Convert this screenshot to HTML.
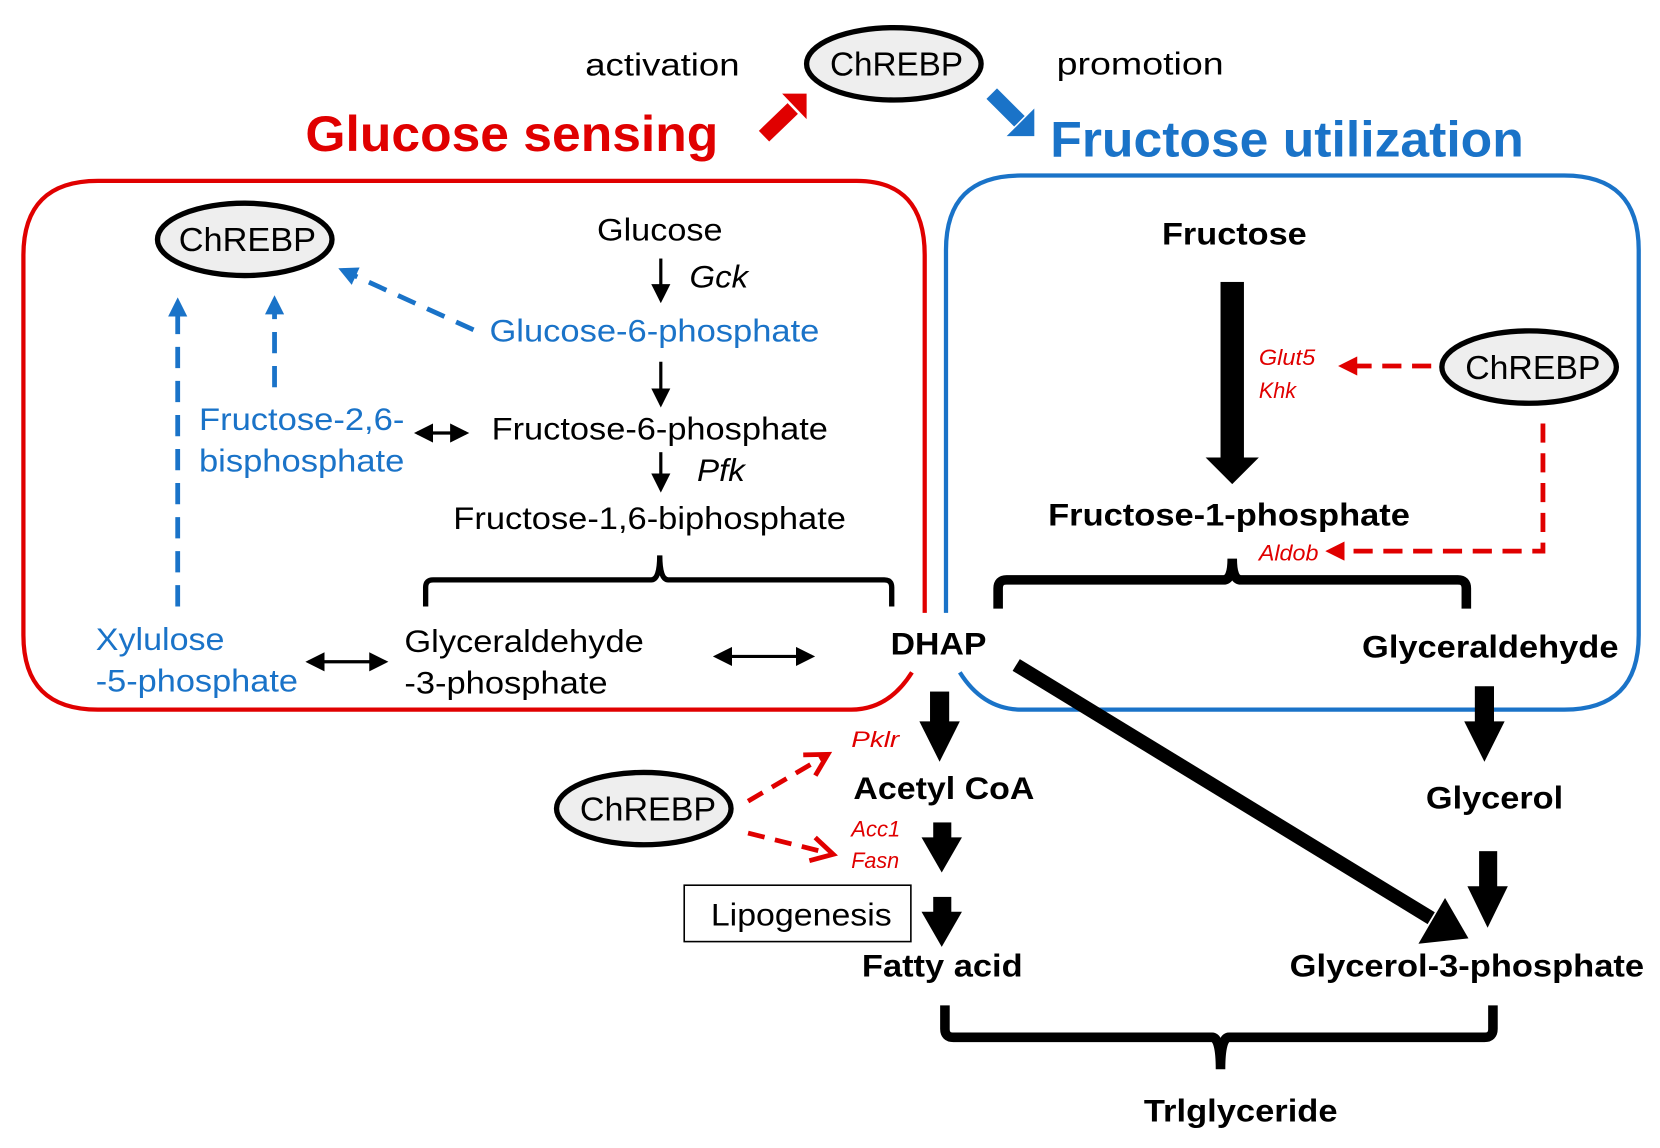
<!DOCTYPE html>
<html><head><meta charset="utf-8"><style>
html,body{margin:0;padding:0;background:#fff}
svg{display:block}
text{font-family:"Liberation Sans",Arial,sans-serif}
.b{font-weight:bold}
.blue{fill:#1a73c8}
.red{fill:#e00000}
</style></head><body>
<svg width="1660" height="1148" viewBox="0 0 1560 1079" preserveAspectRatio="none" xmlns="http://www.w3.org/2000/svg">
<defs>
<marker id="ahs" markerWidth="6" markerHeight="6" refX="5" refY="3" orient="auto-start-reverse" markerUnits="strokeWidth"><path d="M0,0 L6,3 L0,6 z" fill="#000"/></marker>
<marker id="bh" markerWidth="4" markerHeight="4" refX="3" refY="2" orient="auto" markerUnits="strokeWidth"><path d="M0,0 L4,2 L0,4 z" fill="#1a73c8"/></marker>
<marker id="rh" markerWidth="4" markerHeight="4" refX="3" refY="2" orient="auto" markerUnits="strokeWidth"><path d="M0,0 L4,2 L0,4 z" fill="#e00000"/></marker>
<marker id="ro" markerWidth="6" markerHeight="6" refX="5" refY="3" orient="auto" markerUnits="strokeWidth"><path d="M0.5,0.5 L5,3 L0.5,5.5" fill="none" stroke="#e00000" stroke-width="1"/></marker>
</defs>

<path d="M857,632 Q835,667 800,667 L92,667 Q22,667 22,597 L22,240 Q22,170 92,170 L805,170 Q869,170 869,240 L869,576" fill="none" stroke="#e00000" stroke-width="4"/>
<path d="M902,632 Q924,667 960,667 L1470,667 Q1540,667 1540,597 L1540,235 Q1540,165 1470,165 L959,165 Q889,165 889,235 L889,576" fill="none" stroke="#1a73c8" stroke-width="4"/>

<text x="550" y="71" font-size="30" textLength="145" lengthAdjust="spacingAndGlyphs">activation</text>
<ellipse cx="840" cy="60" rx="82" ry="34" fill="#eee" stroke="#000" stroke-width="5"/>
<text x="780" y="71" font-size="31" textLength="125" lengthAdjust="spacingAndGlyphs">ChREBP</text>
<text x="993" y="70" font-size="30" textLength="157" lengthAdjust="spacingAndGlyphs">promotion</text>
<text x="287" y="142" font-size="47" class="b red" textLength="388" lengthAdjust="spacingAndGlyphs">Glucose sensing</text>
<text x="987" y="147" font-size="47" class="b blue" textLength="445" lengthAdjust="spacingAndGlyphs">Fructose utilization</text>
<line x1="718" y1="128" x2="745" y2="102" stroke="#e00000" stroke-width="14"/>
<path d="M735,88 L758,88 L758,112 z" fill="#e00000"/>
<line x1="932" y1="88" x2="958" y2="114" stroke="#1a73c8" stroke-width="14"/>
<path d="M946,128 L972,128 L972,102 z" fill="#1a73c8"/>

<ellipse cx="230" cy="225" rx="82" ry="34" fill="#eee" stroke="#000" stroke-width="5"/>
<text x="168" y="236" font-size="31" textLength="129" lengthAdjust="spacingAndGlyphs">ChREBP</text>
<text x="561" y="226" font-size="30" textLength="118" lengthAdjust="spacingAndGlyphs">Glucose</text>
<line x1="621" y1="243" x2="621" y2="282" stroke="#000" stroke-width="3" marker-end="url(#ahs)"/>
<text x="648" y="270" font-size="30" font-style="italic" textLength="55" lengthAdjust="spacingAndGlyphs">Gck</text>
<text x="460" y="321" font-size="30" class="blue" textLength="310" lengthAdjust="spacingAndGlyphs">Glucose-6-phosphate</text>
<line x1="445" y1="310" x2="322" y2="254" stroke="#1a73c8" stroke-width="4.5" stroke-dasharray="18,12" marker-end="url(#bh)"/>
<line x1="621" y1="340" x2="621" y2="380" stroke="#000" stroke-width="3" marker-end="url(#ahs)"/>
<text x="462" y="413" font-size="30" textLength="316" lengthAdjust="spacingAndGlyphs">Fructose-6-phosphate</text>
<text x="187" y="404" font-size="30" class="blue" textLength="193" lengthAdjust="spacingAndGlyphs">Fructose-2,6-</text>
<text x="187" y="443" font-size="30" class="blue" textLength="193" lengthAdjust="spacingAndGlyphs">bisphosphate</text>
<line x1="392" y1="407" x2="438" y2="407" stroke="#000" stroke-width="3" marker-start="url(#ahs)" marker-end="url(#ahs)"/>
<line x1="621" y1="425" x2="621" y2="460" stroke="#000" stroke-width="3" marker-end="url(#ahs)"/>
<text x="655" y="452" font-size="30" font-style="italic" textLength="45" lengthAdjust="spacingAndGlyphs">Pfk</text>
<text x="426" y="497" font-size="30" textLength="369" lengthAdjust="spacingAndGlyphs">Fructose-1,6-biphosphate</text>
<path d="M400,570 L400,552 Q400,545 407,545 L612,545 Q620,545 620,522 Q620,545 628,545 L831,545 Q838,545 838,552 L838,570" fill="none" stroke="#000" stroke-width="5"/>
<line x1="167" y1="570" x2="167" y2="284" stroke="#1a73c8" stroke-width="4.5" stroke-dasharray="20,12" marker-end="url(#bh)"/>
<line x1="258" y1="364" x2="258" y2="282" stroke="#1a73c8" stroke-width="4.5" stroke-dasharray="20,12" marker-end="url(#bh)"/>
<text x="90" y="611" font-size="30" class="blue" textLength="121" lengthAdjust="spacingAndGlyphs">Xylulose</text>
<text x="90" y="650" font-size="30" class="blue" textLength="190" lengthAdjust="spacingAndGlyphs">-5-phosphate</text>
<line x1="290" y1="622" x2="362" y2="622" stroke="#000" stroke-width="3" marker-start="url(#ahs)" marker-end="url(#ahs)"/>
<text x="380" y="613" font-size="30" textLength="225" lengthAdjust="spacingAndGlyphs">Glyceraldehyde</text>
<text x="380" y="652" font-size="30" textLength="191" lengthAdjust="spacingAndGlyphs">-3-phosphate</text>
<line x1="673" y1="617" x2="763" y2="617" stroke="#000" stroke-width="3" marker-start="url(#ahs)" marker-end="url(#ahs)"/>
<text x="837" y="615" font-size="30" class="b" textLength="90" lengthAdjust="spacingAndGlyphs">DHAP</text>

<text x="1092" y="230" font-size="30" class="b" textLength="136" lengthAdjust="spacingAndGlyphs">Fructose</text>
<rect x="1147" y="265" width="22" height="168" fill="#000"/>
<path d="M1133,430 L1183,430 L1158,455 z" fill="#000"/>
<text x="1183" y="343" font-size="21" font-style="italic" class="red" textLength="53" lengthAdjust="spacingAndGlyphs">Glut5</text>
<text x="1183" y="374" font-size="21" font-style="italic" class="red" textLength="35" lengthAdjust="spacingAndGlyphs">Khk</text>
<line x1="1345" y1="344" x2="1262" y2="344" stroke="#e00000" stroke-width="4.5" stroke-dasharray="18,10" marker-end="url(#rh)"/>
<ellipse cx="1437" cy="345" rx="82" ry="34" fill="#eee" stroke="#000" stroke-width="5"/>
<text x="1377" y="356" font-size="31" textLength="127" lengthAdjust="spacingAndGlyphs">ChREBP</text>
<polyline points="1450,398 1450,518 1250,518" fill="none" stroke="#e00000" stroke-width="4.5" stroke-dasharray="18,10" marker-end="url(#rh)"/>
<text x="1183" y="527" font-size="21" font-style="italic" class="red" textLength="56" lengthAdjust="spacingAndGlyphs">Aldob</text>
<text x="985" y="494" font-size="30" class="b" textLength="340" lengthAdjust="spacingAndGlyphs">Fructose-1-phosphate</text>
<path d="M938,572 L938,553 Q938,545 946,545 L1150,545 Q1158,545 1158,525 Q1158,545 1166,545 L1370,545 Q1378,545 1378,553 L1378,572" fill="none" stroke="#000" stroke-width="9"/>
<text x="1280" y="618" font-size="30" class="b" textLength="241" lengthAdjust="spacingAndGlyphs">Glyceraldehyde</text>

<line x1="955" y1="625" x2="1345" y2="863" stroke="#000" stroke-width="13"/>
<path d="M1333,887 L1380,882 L1358,844 z" fill="#000"/>
<rect x="874" y="650" width="18" height="30" fill="#000"/><path d="M864,678 L902,678 L883,716 z" fill="#000"/>
<rect x="1386" y="645" width="18" height="35" fill="#000"/><path d="M1376,678 L1414,678 L1395,716 z" fill="#000"/>
<text x="800" y="702" font-size="21" font-style="italic" class="red" textLength="45" lengthAdjust="spacingAndGlyphs">Pklr</text>
<text x="802" y="751" font-size="30" class="b" textLength="170" lengthAdjust="spacingAndGlyphs">Acetyl CoA</text>
<text x="1340" y="760" font-size="30" class="b" textLength="129" lengthAdjust="spacingAndGlyphs">Glycerol</text>
<ellipse cx="605" cy="760" rx="82" ry="34" fill="#eee" stroke="#000" stroke-width="5"/>
<text x="545" y="771" font-size="31" textLength="128" lengthAdjust="spacingAndGlyphs">ChREBP</text>
<line x1="703" y1="753" x2="778" y2="709" stroke="#e00000" stroke-width="4.5" stroke-dasharray="16,10" marker-end="url(#ro)"/>
<line x1="703" y1="783" x2="783" y2="803" stroke="#e00000" stroke-width="4.5" stroke-dasharray="16,10" marker-end="url(#ro)"/>
<text x="800" y="786" font-size="21" font-style="italic" class="red" textLength="46" lengthAdjust="spacingAndGlyphs">Acc1</text>
<text x="800" y="816" font-size="21" font-style="italic" class="red" textLength="45" lengthAdjust="spacingAndGlyphs">Fasn</text>
<rect x="877" y="773" width="17" height="16" fill="#000"/><path d="M866,787 L904,787 L885,820 z" fill="#000"/>
<rect x="1390" y="800" width="17" height="35" fill="#000"/><path d="M1379,833 L1417,833 L1398,872 z" fill="#000"/>
<rect x="643" y="832" width="213" height="53" fill="none" stroke="#000" stroke-width="1.5"/>
<text x="668" y="870" font-size="30" textLength="170" lengthAdjust="spacingAndGlyphs">Lipogenesis</text>
<rect x="877" y="843" width="17" height="16" fill="#000"/><path d="M866,857 L904,857 L885,890 z" fill="#000"/>
<text x="810" y="918" font-size="30" class="b" textLength="151" lengthAdjust="spacingAndGlyphs">Fatty acid</text>
<text x="1212" y="918" font-size="30" class="b" textLength="333" lengthAdjust="spacingAndGlyphs">Glycerol-3-phosphate</text>
<path d="M888,945 L888,967 Q888,975 896,975 L1139,975 Q1147,975 1147,1005 Q1147,975 1155,975 L1395,975 Q1403,975 1403,967 L1403,945" fill="none" stroke="#000" stroke-width="9"/>
<text x="1075" y="1054" font-size="30" class="b" textLength="182" lengthAdjust="spacingAndGlyphs">Trlglyceride</text>
</svg>
</body></html>
